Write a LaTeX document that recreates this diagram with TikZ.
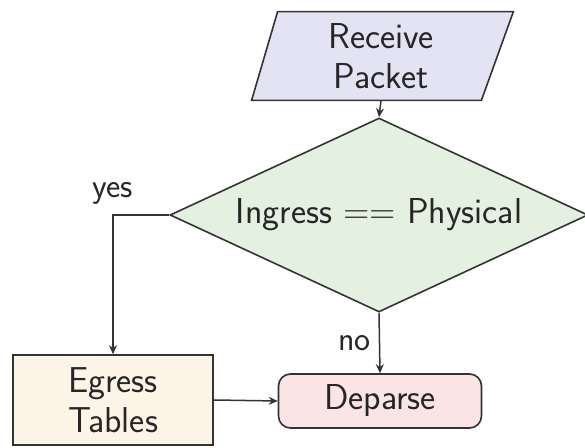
\documentclass[tikz,border=0pt]{standalone}
\usetikzlibrary{shapes.geometric,arrows.meta}
\definecolor{inputfill}{RGB}{227,227,243}
\definecolor{decfill}{RGB}{229,241,224}
\definecolor{tablefill}{RGB}{253,244,232}
\definecolor{endfill}{RGB}{250,228,230}
\begin{document}
\begin{tikzpicture}[x=0.5pt,y=-0.5pt,
  every node/.style={font=\sffamily\fontsize{18}{20}\selectfont, text=black!85},
  edge/.style={draw=black!80, line width=0.8pt},
  arr/.style={draw=black!80, line width=0.75pt, -{Stealth[length=4.5pt,width=4pt]}},
  inbox/.style={rectangle, draw=none, minimum width=100pt, minimum height=44pt, align=center, inner sep=0pt},
  decision/.style={diamond, aspect=2.15, edge, fill=decfill, minimum width=209pt, minimum height=97pt, inner sep=0pt, align=center},
  tablebox/.style={rectangle, edge, fill=tablefill, minimum width=100pt, minimum height=45pt, align=center, inner sep=0pt},
  finalbox/.style={rectangle, rounded corners=6pt, edge, fill=endfill, minimum width=101.5pt, minimum height=27pt, inner sep=0pt},
  lbl/.style={font=\sffamily\fontsize{17}{19}\selectfont, inner sep=2pt}]
\useasboundingbox (0,0) rectangle (585,448);

% input parallelogram: text node plus slanted outline
\node[inbox] (recv) at (381,56) {Receive\\Packet};
\draw[edge, fill=inputfill]
  ([xshift=-1.5pt]recv.north west) -- ([xshift=16pt]recv.north east)
  -- (recv.south east) -- ([xshift=-14.5pt]recv.south west) -- cycle;
\node[inbox] at (381,56) {Receive\\Packet};

\node[decision] (dec) at (379,215) {Ingress == Physical};
\node[tablebox] (egr) at (113,400) {Egress\\Tables};
\node[finalbox] (dep) at (380,401) {Deparse};

\draw[arr] (recv.south) -- (dec.north);
\draw[arr] (dec.west) -| (egr.north) node[lbl, pos=0.5, above, yshift=3pt] {yes};
\draw[arr] (dec.south) -- (dep.north) node[lbl, pos=0.5, left, xshift=-2pt] {no};
\draw[arr] (egr.east) -- (dep.west);
\end{tikzpicture}
\end{document}
